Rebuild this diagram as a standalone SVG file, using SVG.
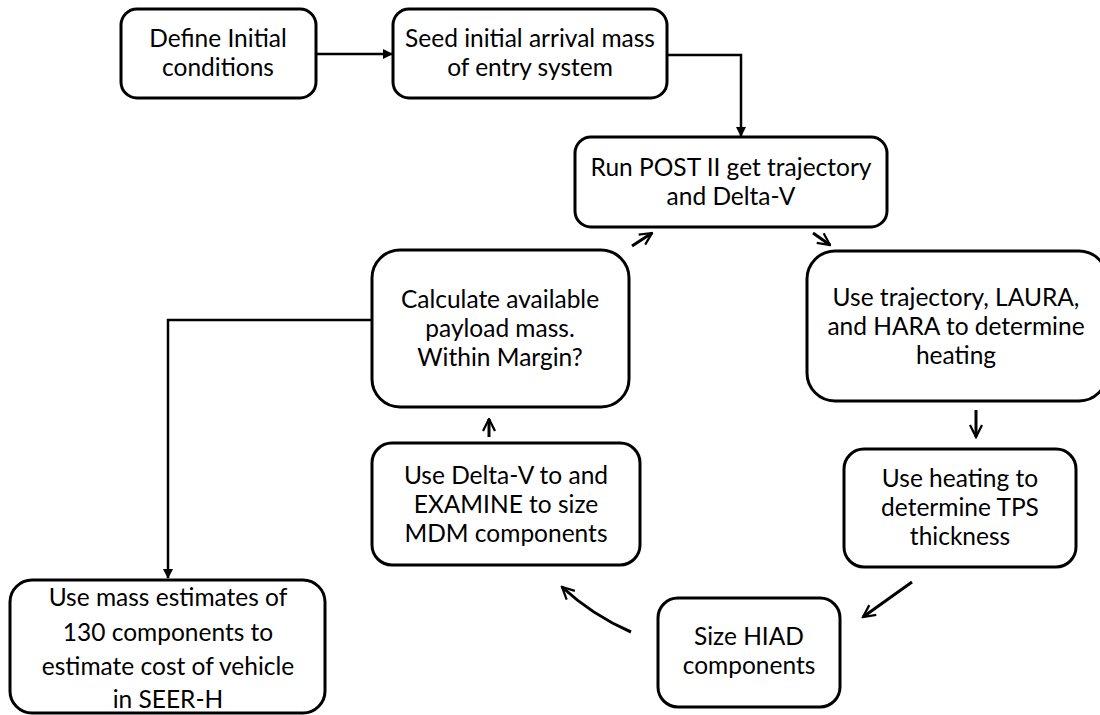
<svg xmlns="http://www.w3.org/2000/svg" width="1100" height="715" viewBox="0 0 1100 715">
<style>
.box{fill:#fff;stroke:#000;stroke-width:3}
.t{font-family:Lato,"Open Sans",sans-serif;font-size:24.5px;fill:#000;text-anchor:middle}
.c{fill:none;stroke:#000;stroke-width:2.5}
.o{fill:none;stroke:#000;stroke-width:3}
</style>
<defs>
<marker id="tri" viewBox="0 0 10 10" refX="9" refY="5" markerWidth="4" markerHeight="4" orient="auto" markerUnits="strokeWidth">
<path d="M0,0 L10,5 L0,10 z" fill="#000"/>
</marker>
<marker id="vee" viewBox="0 0 10 10" refX="9" refY="5" markerWidth="5" markerHeight="5" orient="auto" markerUnits="strokeWidth">
<path d="M1,1 L9,5 L1,9" fill="none" stroke="#000" stroke-width="1.5"/>
</marker>
</defs>
<g id="connectors">
<line class="c" x1="316" y1="54" x2="392" y2="54" marker-end="url(#tri)"/>
<polyline class="c" points="667,55 741,55 741,136" marker-end="url(#tri)"/>
<line class="o" x1="813" y1="233" x2="830" y2="245" marker-end="url(#vee)"/>
<line class="o" x1="632" y1="246" x2="652" y2="233" marker-end="url(#vee)"/>
<line class="o" x1="976" y1="410" x2="976" y2="437" marker-end="url(#vee)"/>
<line class="o" x1="912" y1="582" x2="863" y2="617" marker-end="url(#vee)"/>
<path class="o" d="M631,632 Q592,615 562,587" marker-end="url(#vee)"/>
<line class="o" x1="489" y1="437" x2="489" y2="419" marker-end="url(#vee)"/>
<polyline class="c" points="372,320 168,320 168,578" marker-end="url(#tri)"/>
</g>
<g id="n1"><rect class="box" x="121" y="9" width="195" height="89" rx="16"/>
<text class="t" x="218" y="47">Define Initial</text><text class="t" x="218" y="76">conditions</text></g>
<g id="n2"><rect class="box" x="393" y="9" width="274" height="89" rx="16"/>
<text class="t" x="530" y="47">Seed initial arrival mass</text><text class="t" x="530" y="76">of entry system</text></g>
<g id="n3"><rect class="box" x="575" y="137" width="312" height="90" rx="16"/>
<text class="t" x="731" y="176">Run POST II get trajectory</text><text class="t" x="731" y="205">and Delta-V</text></g>
<g id="n4"><rect class="box" x="807" y="251" width="300" height="150" rx="28"/>
<text class="t" x="956" y="306">Use trajectory, LAURA,</text><text class="t" x="956" y="335">and HARA to determine</text><text class="t" x="956" y="364">heating</text></g>
<g id="n5"><rect class="box" x="372" y="250" width="257" height="157" rx="28"/>
<text class="t" x="500" y="308">Calculate available</text><text class="t" x="500" y="337">payload mass.</text><text class="t" x="500" y="366">Within Margin?</text></g>
<g id="n6"><rect class="box" x="844" y="449" width="232" height="118" rx="20"/>
<text class="t" x="960" y="487">Use heating to</text><text class="t" x="960" y="516">determine TPS</text><text class="t" x="960" y="545">thickness</text></g>
<g id="n7"><rect class="box" x="658" y="598" width="182" height="109" rx="20"/>
<text class="t" x="749" y="645">Size HIAD</text><text class="t" x="749" y="674">components</text></g>
<g id="n8"><rect class="box" x="372" y="443" width="268" height="122" rx="20"/>
<text class="t" x="506" y="484">Use Delta-V to and</text><text class="t" x="506" y="513">EXAMINE to size</text><text class="t" x="506" y="542">MDM components</text></g>
<g id="n9"><rect class="box" x="10" y="580" width="315" height="133" rx="22"/>
<text class="t" x="168" y="606">Use mass estimates of</text><text class="t" x="168" y="641">130 components to</text><text class="t" x="168" y="675">estimate cost of vehicle</text><text class="t" x="168" y="708">in SEER-H</text></g>
</svg>
